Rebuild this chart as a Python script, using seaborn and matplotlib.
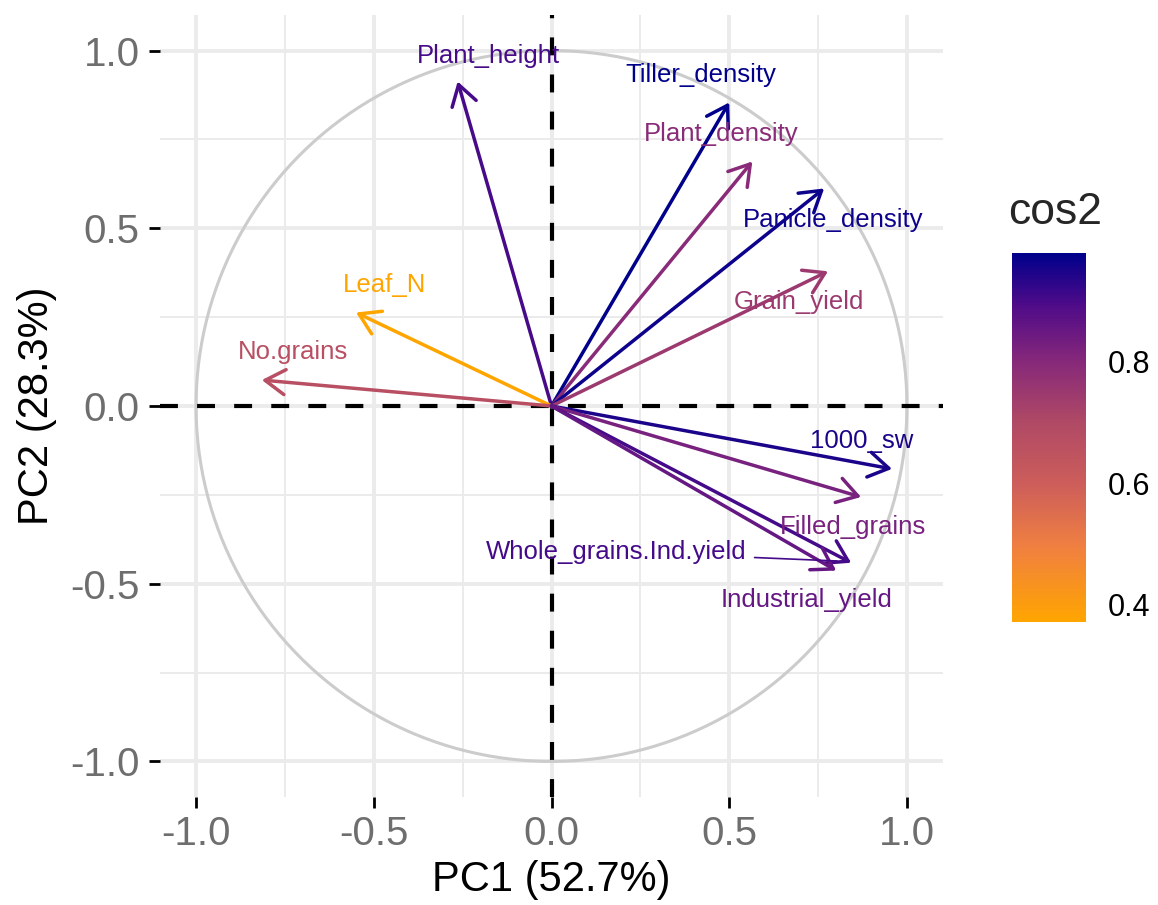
import numpy as np
import pandas as pd
import matplotlib
matplotlib.use("Agg")
import matplotlib.pyplot as plt
import seaborn as sns
from matplotlib.colors import LinearSegmentedColormap, Normalize
from matplotlib.cm import ScalarMappable
from matplotlib.ticker import MultipleLocator, FixedLocator

# PCA variable coordinates
variables = ["Plant_height", "Tiller_density", "Plant_density", "Panicle_density",
             "Grain_yield", "Leaf_N", "No.grains", "1000_sw", "Filled_grains",
             "Whole_grains.Ind.yield", "Industrial_yield"]
pc1 = [-0.264, 0.500, 0.565, 0.767, 0.778, -0.550, -0.815, 0.958, 0.871, 0.843, 0.801]
pc2 = [0.913, 0.854, 0.688, 0.612, 0.379, 0.263, 0.073, -0.177, -0.256, -0.441, -0.463]

# where the repelled labels ended up
label_x = [-0.178, 0.419, 0.478, 0.792, 0.697, -0.469, -0.728, 0.874, 0.849, 0.183, 0.718]
label_y = [0.986, 0.930, 0.764, 0.522, 0.292, 0.340, 0.152, -0.098, -0.340, -0.410, -0.545]

axis_ticks = [-1.0, -0.5, 0.0, 0.5, 1.0]
cos2_ticks = [0.4, 0.6, 0.8]
x_title = "PC1 (52.7%)"
y_title = "PC2 (28.3%)"

df = pd.DataFrame({"var": variables, "PC1": pc1, "PC2": pc2,
                   "lx": label_x, "ly": label_y})
df["cos2"] = df["PC1"] ** 2 + df["PC2"] ** 2

# orange -> darkblue gradient, anchors sampled from the legend bar
cmap = LinearSegmentedColormap.from_list("cos2", [
    (0.00, "#ffa500"),
    (0.20, "#f08040"),
    (0.37, "#cd5e5a"),
    (0.55, "#ae4866"),
    (0.71, "#85287a"),
    (0.86, "#4f0b89"),
    (1.00, "#00008b"),
])
norm = Normalize(vmin=df["cos2"].min(), vmax=df["cos2"].max())

sns.set_theme(style="white")
plt.rcParams["font.family"] = ["Liberation Sans", "DejaVu Sans"]

fig = plt.figure(figsize=(11.58, 9.05), dpi=100)
ax = fig.add_axes([160 / 1158, (905 - 797) / 905, 783 / 1158, 782 / 905])

# grid
ax.xaxis.set_major_locator(FixedLocator(axis_ticks))
ax.yaxis.set_major_locator(FixedLocator(axis_ticks))
ax.xaxis.set_minor_locator(MultipleLocator(0.25))
ax.yaxis.set_minor_locator(MultipleLocator(0.25))
ax.grid(which="major", color="#ebebeb", lw=2.8)
ax.grid(which="minor", color="#ebebeb", lw=1.4)
ax.set_axisbelow(True)

# correlation circle
theta = np.linspace(0, 2 * np.pi, 400)
sns.lineplot(x=np.cos(theta), y=np.sin(theta), sort=False, estimator=None,
             ax=ax, color="#cccccc", lw=2.2, zorder=2)

ax.axhline(0, color="black", lw=3, ls=(0, (4.3, 4.6)), zorder=3)
ax.axvline(0, color="black", lw=3, ls=(0, (4.3, 4.6)), zorder=3)

for _, r in df.iterrows():
    c = cmap(norm(r["cos2"]))
    ax.annotate("", xy=(r["PC1"], r["PC2"]), xytext=(0, 0),
                arrowprops=dict(arrowstyle="->,head_length=0.72,head_width=0.45",
                                color=c, lw=2.5, shrinkA=0, shrinkB=0,
                                mutation_scale=20), zorder=4)
    if r["var"] == "Whole_grains.Ind.yield":
        # ggrepel leader line
        ax.annotate(r["var"], xy=(r["PC1"] - 0.04, r["PC2"] + 0.005),
                    xytext=(r["lx"], r["ly"]), color=c, fontsize=18.5,
                    ha="center", va="center", zorder=5,
                    bbox=dict(boxstyle="square,pad=0.3", fc="none", ec="none"),
                    arrowprops=dict(arrowstyle="-", color=c, lw=1.2,
                                    shrinkA=0, shrinkB=0))
    else:
        ax.text(r["lx"], r["ly"], r["var"], color=c, fontsize=18.5,
                ha="center", va="center", zorder=5)

ax.set_xlim(-1.1, 1.1)
ax.set_ylim(-1.1, 1.1)
ax.set_aspect("equal")
for s in ax.spines.values():
    s.set_visible(False)

ax.xaxis.set_major_formatter(plt.FuncFormatter(lambda v, p: f"{v:.1f}"))
ax.yaxis.set_major_formatter(plt.FuncFormatter(lambda v, p: f"{v:.1f}"))
ax.tick_params(which="major", length=8, width=2, color="black",
               labelsize=29, labelcolor="#6e6e6e")
ax.tick_params(which="minor", length=0)
ax.tick_params(axis="x", which="major", bottom=True, pad=5)
ax.tick_params(axis="y", which="major", left=True, pad=7)

ax.set_xlabel(x_title, fontsize=30, color="black")
ax.set_ylabel(y_title, fontsize=30, color="black")
ax.xaxis.set_label_coords(0.5, -0.080)
ax.yaxis.set_label_coords(-0.132, 0.5)

# colourbar legend
cax = fig.add_axes([1012 / 1158, (905 - 622) / 905, 74 / 1158, 369 / 905])
cb = fig.colorbar(ScalarMappable(norm=norm, cmap=cmap), cax=cax)
cb.outline.set_visible(False)
cb.set_ticks(cos2_ticks)
cb.ax.set_yticklabels([f"{t:.1f}" for t in cos2_ticks])
cb.minorticks_off()
cax.tick_params(axis="y", which="major", direction="in", length=11, width=1.3,
                color="white", left=True, right=True, labelleft=False,
                labelright=True, labelsize=22, labelcolor="black", pad=16)
fig.text(1008 / 1158, 1 - 212 / 905, "cos2", fontsize=32, ha="left", va="center")

fig.savefig("out.png", dpi=100)
